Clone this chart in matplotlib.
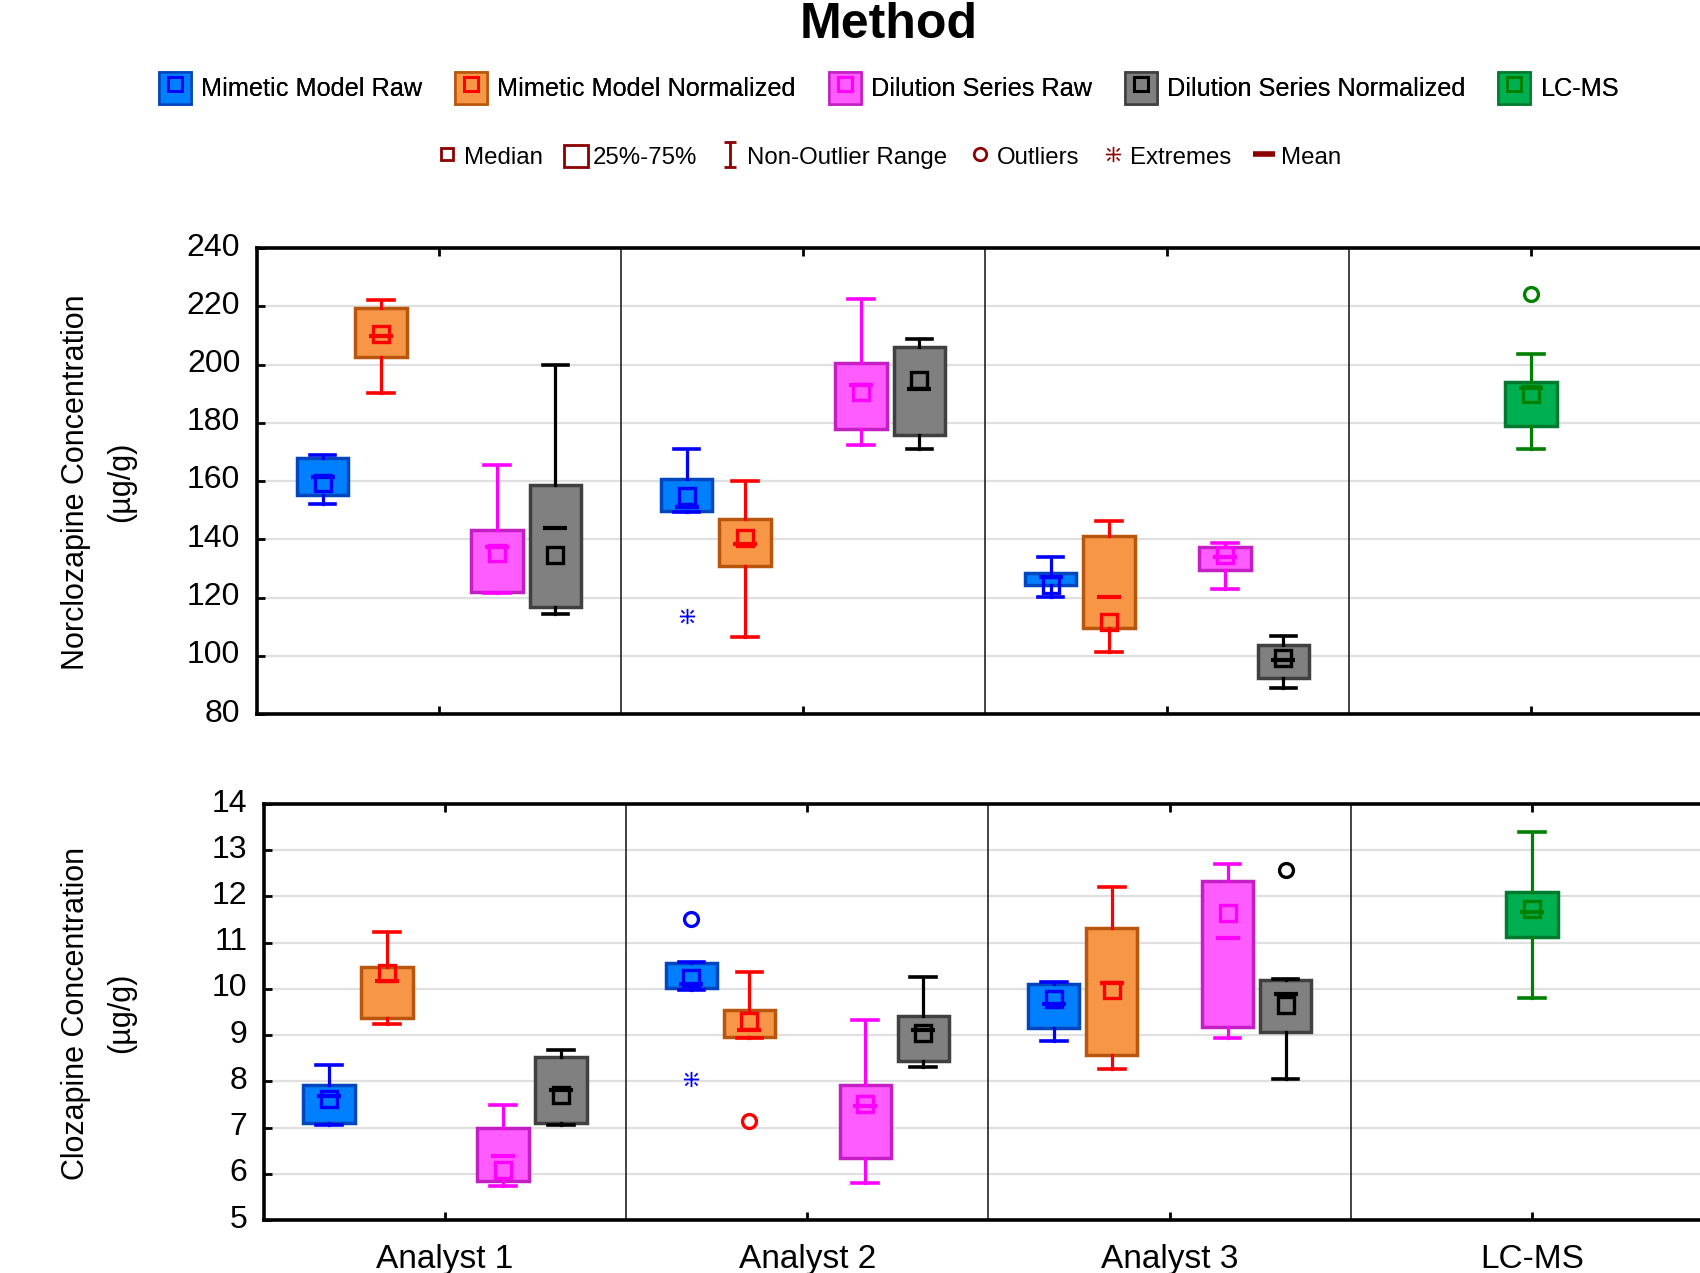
import matplotlib
matplotlib.use('Agg')
import matplotlib.pyplot as plt
from matplotlib.patches import Patch
from matplotlib.lines import Line2D
from matplotlib.path import Path
from matplotlib.transforms import ScaledTranslation

plt.rcParams['font.family'] = ['Liberation Sans', 'DejaVu Sans']

groups = ['Analyst 1', 'Analyst 2', 'Analyst 3', 'LC-MS']
methods = ['Mimetic Model Raw', 'Mimetic Model Normalized', 'Dilution Series Raw',
           'Dilution Series Normalized', 'LC-MS']

# one row per analyst: whisker low, q1, median, q3, whisker high, mean
nor_mimetic_raw = [[152.1, 155.2, 159.2, 168.0, 168.9, 161.3],
                   [149.2, 149.7, 155.0, 160.7, 171.0, 151.0],
                   [120.3, 124.3, 124.4, 128.5, 134.0, 127.2]]
nor_mimetic_norm = [[190.1, 202.7, 210.6, 219.3, 222.1, 209.9],
                    [106.6, 130.9, 140.3, 146.8, 160.0, 138.4],
                    [101.4, 109.4, 111.7, 141.1, 146.4, 120.3]]
nor_dilution_raw = [[121.4, 122.0, 135.2, 143.2, 165.5, 137.4],
                    [172.4, 178.0, 190.7, 200.4, 222.5, 193.0],
                    [122.9, 129.6, 134.5, 137.4, 138.6, 134.0]]
nor_dilution_norm = [[114.2, 116.6, 134.6, 158.6, 199.8, 144.0],
                     [171.0, 175.7, 194.7, 205.9, 208.8, 191.6],
                     [88.8, 92.2, 99.3, 103.7, 106.9, 98.5]]
nor_lcms = [[171.0, 179.0, 189.9, 193.9, 203.6, 191.8]]

clo_mimetic_raw = [[7.05, 7.10, 7.61, 7.92, 8.35, 7.69],
                   [9.98, 10.01, 10.24, 10.55, 10.59, 10.11],
                   [8.88, 9.16, 9.79, 10.11, 10.14, 9.68]]
clo_mimetic_norm = [[9.23, 9.36, 10.35, 10.47, 11.22, 10.18],
                    [8.93, 8.96, 9.31, 9.54, 10.37, 9.11],
                    [8.26, 8.57, 9.98, 11.31, 12.21, 10.12]]
clo_dilution_raw = [[5.74, 5.85, 6.08, 7.00, 7.49, 6.39],
                    [5.81, 6.35, 7.52, 7.92, 9.33, 7.47],
                    [8.94, 9.18, 11.65, 12.33, 12.70, 11.11]]
clo_dilution_norm = [[7.06, 7.10, 7.70, 8.53, 8.68, 7.82],
                     [8.31, 8.45, 9.05, 9.41, 10.26, 9.12],
                     [8.06, 9.07, 9.65, 10.19, 10.21, 9.89]]
clo_lcms = [[9.80, 11.12, 11.72, 12.09, 13.40, 11.67]]

# outliers / extremes: group index, method index, value
nor_out_group, nor_out_method, nor_out_value = [3], [4], [224.1]
nor_ext_group, nor_ext_method, nor_ext_value = [1], [0], [113.6]
clo_out_group, clo_out_method, clo_out_value = [1, 1, 2], [0, 1, 3], [11.51, 7.14, 12.57]
clo_ext_group, clo_ext_method, clo_ext_value = [1], [0], [8.04]

offsets = [-0.32, -0.16, 0.16, 0.32, 0.0]
fills = ['#0080FF', '#F79646', '#FF5CFF', '#808080', '#00B050']
edges = ['#0046BE', '#B8560E', '#C41FC4', '#404040', '#007A2E']
lines = ['#0000FF', '#FF0000', '#FF00FF', '#000000', '#008000']
dark = '#8B0000'

asterisk = Path([(0, -1), (0, 1), (-1, 0), (1, 0),
                 (0.4, 0.4), (0.8, 0.8), (-0.4, 0.4), (-0.8, 0.8),
                 (0.4, -0.4), (0.8, -0.8), (-0.4, -0.4), (-0.8, -0.8)],
                [Path.MOVETO, Path.LINETO] * 6)
ibeam = Path([(-0.5, 1), (0.5, 1), (0, 1), (0, -1), (-0.5, -1), (0.5, -1)],
             [Path.MOVETO, Path.LINETO, Path.MOVETO, Path.LINETO, Path.MOVETO, Path.LINETO])


def draw_panel(ax, data, outs, exts, ylim, yticks):
    for k, boxes in enumerate(data):
        if k == 4:
            pos = [3 + offsets[k]]
        else:
            pos = [g + offsets[k] for g in range(len(boxes))]
        stats = [dict(whislo=b[0], q1=b[1], med=b[2], q3=b[3], whishi=b[4], mean=b[5])
                 for b in boxes]
        ax.bxp(stats, positions=pos, widths=0.142, patch_artist=True,
               showmeans=True, showfliers=False, manage_ticks=False,
               boxprops=dict(facecolor=fills[k], edgecolor=edges[k], linewidth=2.5),
               whiskerprops=dict(color=lines[k], linewidth=2.3),
               capprops=dict(color=lines[k], linewidth=2.6),
               medianprops=dict(linewidth=0),
               meanprops=dict(marker='_', markersize=17, markeredgewidth=3,
                              markeredgecolor=lines[k]),
               zorder=3)
        ax.plot(pos, [b[2] for b in boxes], ls='none', marker='s', ms=11,
                mfc='none', mec=lines[k], mew=2.4, zorder=6)

    g, m, v = outs
    for gi, mi, vi in zip(g, m, v):
        ax.plot([gi + offsets[mi]], [vi], ls='none', marker='o', ms=10,
                mfc='none', mec=lines[mi], mew=2.4, zorder=6)
    g, m, v = exts
    for gi, mi, vi in zip(g, m, v):
        ax.plot([gi + offsets[mi]], [vi], ls='none', marker=asterisk, ms=11,
                mfc='none', mec=lines[mi], mew=1.3, zorder=6)

    for x in (0.5, 1.5, 2.5):
        ax.axvline(x, color='#222222', lw=1.2, zorder=1)
    ax.set_xlim(-0.5, 3.5)
    ax.set_ylim(*ylim)
    ax.set_yticks(yticks)
    ax.set_xticks(range(len(groups)))
    ax.yaxis.grid(True, color='#E0E0E0', lw=1.6)
    ax.set_axisbelow(True)
    for s in ('top', 'left', 'bottom'):
        ax.spines[s].set_linewidth(2.6)
    ax.spines['right'].set_visible(False)
    ax.tick_params(axis='y', direction='in', length=6, width=2, labelsize=23, pad=12)
    ax.tick_params(axis='x', direction='in', length=6, width=2, top=True, bottom=True,
                   labelsize=24, pad=17)
    # labels sit a little above their gridlines in the original
    up = ScaledTranslation(0, 4 / 100, ax.figure.dpi_scale_trans)
    for lab in ax.get_yticklabels():
        lab.set_transform(lab.get_transform() + up)


fig = plt.figure(figsize=(17, 12.73), dpi=100)
ax_top = fig.add_axes([257 / 1700, 1 - 714 / 1273, 1456 / 1700, 466 / 1273])
ax_bot = fig.add_axes([264 / 1700, 1 - 1220 / 1273, 1449 / 1700, 416 / 1273])

draw_panel(ax_top, [nor_mimetic_raw, nor_mimetic_norm, nor_dilution_raw, nor_dilution_norm, nor_lcms],
           (nor_out_group, nor_out_method, nor_out_value),
           (nor_ext_group, nor_ext_method, nor_ext_value),
           (80, 240), range(80, 241, 20))
ax_top.set_xticklabels([])

draw_panel(ax_bot, [clo_mimetic_raw, clo_mimetic_norm, clo_dilution_raw, clo_dilution_norm, clo_lcms],
           (clo_out_group, clo_out_method, clo_out_value),
           (clo_ext_group, clo_ext_method, clo_ext_value),
           (5, 14), range(5, 15))
ax_bot.set_xticklabels(groups)

fig.text(76 / 1700, 1 - 482 / 1273, 'Norclozapine Concentration', rotation=90,
         ha='center', va='center', fontsize=22)
fig.text(121 / 1700, 1 - 482 / 1273, '(µg/g)', rotation=90, ha='center', va='center', fontsize=22)
fig.text(76 / 1700, 1 - 1013 / 1273, 'Clozapine Concentration', rotation=90,
         ha='center', va='center', fontsize=22)
fig.text(121 / 1700, 1 - 1013 / 1273, '(µg/g)', rotation=90, ha='center', va='center', fontsize=22)

fig.text(889 / 1700, 1 - 38 / 1273, 'Method', ha='center', va='baseline',
         fontsize=36, fontweight='bold')

# legend row 1: methods
handles1 = []
for k in range(len(methods)):
    handles1.append((Patch(facecolor=fills[k], edgecolor=edges[k], lw=1.8),
                     Line2D([], [], ls='none', marker='s', ms=10, mfc='none',
                            mec=lines[k], mew=2.2)))
leg1 = fig.legend(handles1, methods, loc='center', bbox_to_anchor=(889 / 1700, 1 - 88 / 1273),
                  ncol=5, frameon=False, fontsize=18.2, handlelength=1.27, handleheight=1.52,
                  handletextpad=0.4, columnspacing=1.3, borderpad=0)

# legend row 2: box plot keys
handles2 = [Line2D([], [], ls='none', marker='s', ms=9, mfc='none', mec=dark, mew=2),
            Patch(facecolor='none', edgecolor=dark, lw=2),
            Line2D([], [], ls='none', marker=ibeam, ms=18, mfc='none', mec=dark, mew=2),
            Line2D([], [], ls='none', marker='o', ms=9, mfc='none', mec=dark, mew=2),
            Line2D([], [], ls='none', marker=asterisk, ms=11, mfc='none', mec=dark, mew=1.2),
            Line2D([], [], ls='none', marker='_', ms=16, mec=dark, mew=4)]
labels2 = ['Median', '25%-75%', 'Non-Outlier Range', 'Outliers', 'Extremes', 'Mean']
leg2 = fig.legend(handles2, labels2, loc='center', bbox_to_anchor=(888 / 1700, 1 - 157 / 1273),
                  ncol=6, frameon=False, fontsize=17.3, handlelength=1.0, handleheight=1.0,
                  handletextpad=0.2, columnspacing=0.88, borderpad=0)
fig.add_artist(leg1)

fig.savefig('out.png', dpi=100)
